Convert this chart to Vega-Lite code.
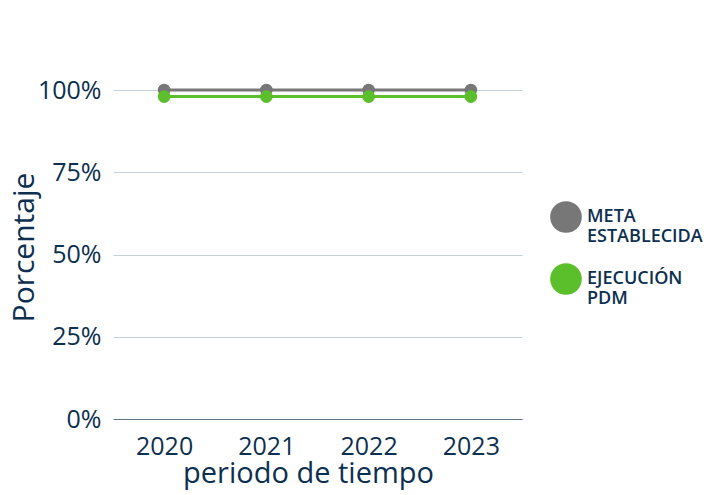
{
  "$schema": "https://vega.github.io/schema/vega-lite/v6.json",
  "autosize": {"type": "none"},
  "width": 409,
  "height": 329,
  "padding": {"left": 113, "top": 90, "right": 206, "bottom": 76},
  "background": "#ffffff",
  "config": {
    "font": "Open Sans",
    "view": {"stroke": null}
  },
  "data": {
    "values": [
      {"anio": "2020", "serie": "META ESTABLECIDA", "valor": 1.0},
      {"anio": "2021", "serie": "META ESTABLECIDA", "valor": 1.0},
      {"anio": "2022", "serie": "META ESTABLECIDA", "valor": 1.0},
      {"anio": "2023", "serie": "META ESTABLECIDA", "valor": 1.0},
      {"anio": "2020", "serie": "EJECUCIÓN PDM", "valor": 0.98},
      {"anio": "2021", "serie": "EJECUCIÓN PDM", "valor": 0.98},
      {"anio": "2022", "serie": "EJECUCIÓN PDM", "valor": 0.98},
      {"anio": "2023", "serie": "EJECUCIÓN PDM", "valor": 0.98}
    ]
  },
  "encoding": {
    "x": {
      "field": "anio",
      "type": "ordinal",
      "scale": {"type": "point", "padding": 0.5},
      "axis": {
        "title": "periodo de tiempo",
        "titleFontSize": 29,
        "titleFontWeight": 500,
        "titleColor": "#0d3050",
        "titlePadding": 0,
        "titleX": 195,
        "labelAngle": 0,
        "labelFontSize": 25,
        "labelColor": "#0d3050",
        "labelPadding": 15,
        "ticks": false,
        "domainColor": "#5f7585",
        "domainWidth": 1,
        "grid": false
      }
    },
    "y": {
      "field": "valor",
      "type": "quantitative",
      "scale": {"domain": [0, 1]},
      "axis": {
        "title": "Porcentaje",
        "titleFontSize": 30,
        "titleFontWeight": 500,
        "titleColor": "#0d3050",
        "titleX": -80,
        "titleY": 157,
        "titleAngle": -90,
        "titleAlign": "center",
        "titleBaseline": "alphabetic",
        "values": [0, 0.25, 0.5, 0.75, 1],
        "format": ".0%",
        "labelFontSize": 25,
        "labelColor": "#0d3050",
        "labelPadding": 12,
        "ticks": false,
        "domain": false,
        "gridColor": "#c5d0d8",
        "gridWidth": 1
      }
    },
    "color": {
      "field": "serie",
      "type": "nominal",
      "sort": ["META ESTABLECIDA", "EJECUCIÓN PDM"],
      "scale": {"domain": ["META ESTABLECIDA", "EJECUCIÓN PDM"], "range": ["#777777", "#5bbf2b"]},
      "legend": {
        "title": null,
        "orient": "none",
        "legendX": 437,
        "legendY": 111,
        "symbolType": "circle",
        "symbolSize": 1000,
        "symbolStrokeWidth": 0,
        "symbolOpacity": 1,
        "labelExpr": "split(datum.label, ' ')",
        "labelFontSize": 18,
        "labelFontWeight": 600,
        "labelLineHeight": 18,
        "labelColor": "#0d3050",
        "labelOffset": 5,
        "labelLimit": 200,
        "rowPadding": 17
      }
    }
  },
  "layer": [
    {"mark": {"type": "line", "strokeWidth": 3}},
    {"mark": {"type": "point", "filled": true, "size": 160, "opacity": 1}}
  ]
}
